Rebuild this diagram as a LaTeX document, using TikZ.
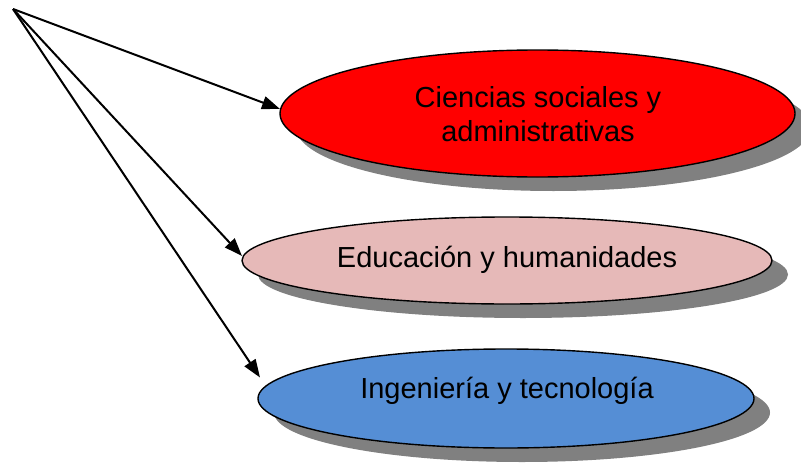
\documentclass[tikz,border=0pt]{standalone}
\usepackage{fontspec}
\setmainfont{Liberation Sans}
\usetikzlibrary{shapes.geometric,arrows.meta,shadows}
\definecolor{cred}{HTML}{FF0000}
\definecolor{cpink}{HTML}{E6B9B8}
\definecolor{cblue}{HTML}{558ED5}
\definecolor{cshadow}{HTML}{808080}
\begin{document}
\begin{tikzpicture}[x=1pt,y=-1pt,
  oval/.style={ellipse, draw=black, line width=1.4pt, inner sep=0pt, outer sep=0pt,
    drop shadow={shadow xshift=16pt, shadow yshift=-14pt, opacity=1, fill=cshadow, draw=none}},
  txt/.style={font=\fontsize{29}{34}\selectfont, inner sep=0pt, align=center},
  link/.style={line width=2pt, -{Triangle[length=18pt,width=13pt]}}]
\useasboundingbox (0,0) rectangle (801,463);
\coordinate (o) at (13,9);
\node[oval, fill=cred, minimum width=515pt, minimum height=127pt] (red) at (537.5,113.5) {};
\node[oval, fill=cpink, minimum width=530pt, minimum height=87pt] (pink) at (507,260.5) {};
\node[oval, fill=cblue, minimum width=496pt, minimum height=99pt] (blue) at (506,398.5) {};
\node[txt] (tred) at (538,114.5) {Ciencias sociales y\\administrativas};
\node[txt, anchor=base] (tpink) at (507,267) {Educación y humanidades};
\node[txt, anchor=base] (tblue) at (507,398) {Ingeniería y tecnología};
\draw[link] (o) -- ([yshift=4.5pt]red.west);
\draw[link] (o) -- ([yshift=4.5pt]pink.west);
\draw[link] (o) -- ([shift={(2pt,21pt)}]blue.west);
\end{tikzpicture}
\end{document}
